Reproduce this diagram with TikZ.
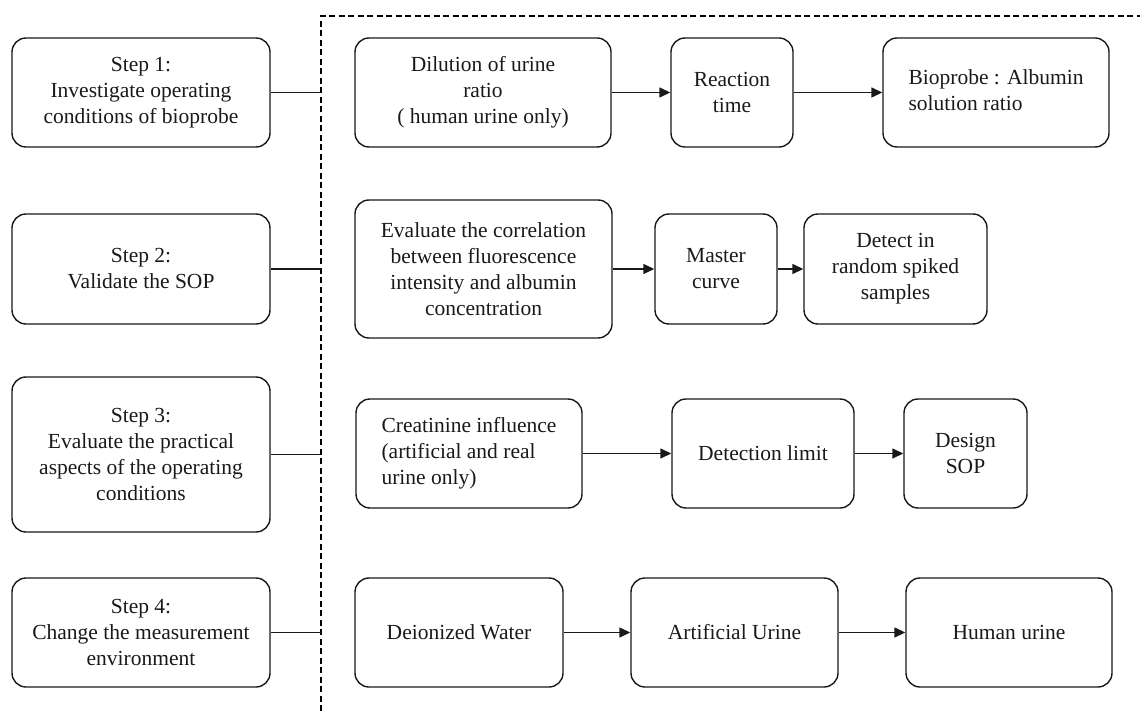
\documentclass[tikz,border=0pt]{standalone}
\usepackage{fontspec}
\setmainfont{Liberation Serif}
\usetikzlibrary{arrows.meta}
\tikzset{
  box/.style={draw=black!90, line width=1.4pt, rounded corners=14pt, inner sep=0pt,
    align=center, text=black!90, font=\fontsize{21.5pt}{26pt}\selectfont},
  link/.style={draw=black!90, line width=1.4pt},
  flow/.style={draw=black!90, line width=1.4pt, -{Triangle[length=11pt,width=10pt]}},
  frame/.style={draw=black, line width=1.6pt, dash pattern=on 6pt off 3.5pt}
}
\newcommand{\bx}[6]{% name, x1, x2, y1, y2, text
  \node[box, minimum width={(#3-#2)*1pt}, minimum height={(#5-#4)*1pt}]
    (#1) at ({(#2+#3)/2},{(#4+#5)/2}) {#6};}
\begin{document}
\begin{tikzpicture}[x=1pt,y=-1pt]
\useasboundingbox (0,0) rectangle (1140,711);
% dashed frame
\draw[frame] (321,711) -- (321,16) -- (1140,16);
% steps
\bx{s1}{12}{270}{38}{147}{Step 1:\\Investigate operating\\conditions of bioprobe}
\bx{s2}{12}{270}{214}{324}{Step 2:\\Validate the SOP}
\bx{s3}{12}{270}{377}{532}{Step 3:\\Evaluate the practical\\aspects of the operating\\conditions}
\bx{s4}{12}{270}{578}{687}{Step 4:\\Change the measurement\\environment}
\coordinate (j1) at (321,92.5);
\coordinate (j2) at (321,269);
\coordinate (j3) at (321,454.5);
\coordinate (j4) at (321,632.5);
\draw[link] (s1.east) -- (j1);
\draw[link] (s2.east) -- (j2);
\draw[link] (s3.east) -- (j3);
\draw[link] (s4.east) -- (j4);
% row 1
\bx{a1}{355}{611}{38}{147}{Dilution of urine\\ratio\\( human urine only)}
\bx{a2}{671}{793}{38}{147}{Reaction\\time}
\bx{a3}{883}{1109}{38}{147}{\begin{tabular}{@{}l@{}}Bioprobe : Albumin\\solution ratio\end{tabular}}
\draw[flow] (a1) -- (a2);
\draw[flow] (a2) -- (a3);
% row 2
\bx{b1}{355}{612}{200}{338}{Evaluate the correlation\\between fluorescence\\intensity and albumin\\concentration}
\bx{b2}{655}{777}{214}{324}{Master\\curve}
\bx{b3}{804}{987}{214}{324}{Detect in\\random spiked\\samples}
\draw[flow] (b1) -- (b2);
\draw[flow] (b2) -- (b3);
% row 3
\bx{c1}{356}{582}{399}{508}{\begin{tabular}{@{}l@{}}Creatinine influence\\(artificial and real\\urine only)\end{tabular}}
\bx{c2}{672}{854}{399}{508}{Detection limit}
\bx{c3}{904}{1027}{399}{508}{Design\\SOP}
\draw[flow] (c1) -- (c2);
\draw[flow] (c2) -- (c3);
% row 4
\bx{d1}{355}{563}{578}{687}{Deionized Water}
\bx{d2}{631}{838}{578}{687}{Artificial Urine}
\bx{d3}{906}{1112}{578}{687}{Human urine}
\draw[flow] (d1) -- (d2);
\draw[flow] (d2) -- (d3);
\end{tikzpicture}
\end{document}
